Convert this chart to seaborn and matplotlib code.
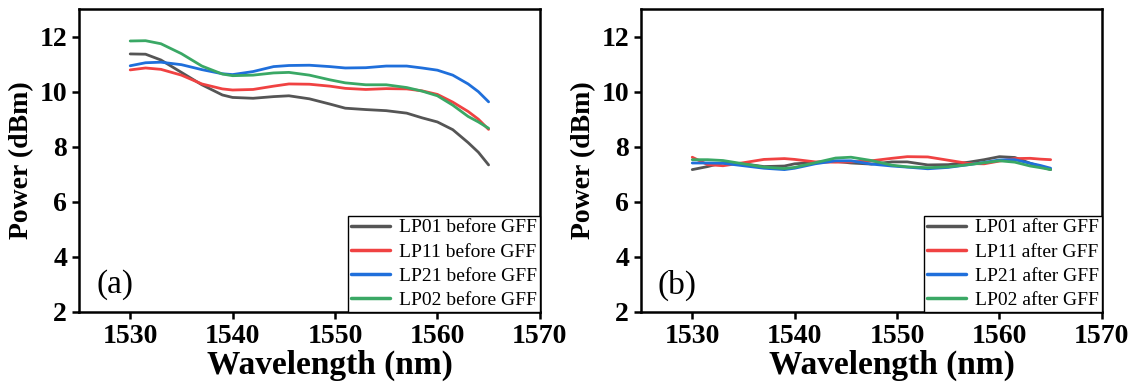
import matplotlib
matplotlib.use("Agg")
import matplotlib.pyplot as plt
import seaborn as sns
import pandas as pd

# wavelength grid (nm)
wl = [1530, 1531.5, 1533, 1535, 1537, 1539, 1540, 1542, 1544, 1545.5, 1547.5,
      1549.5, 1551, 1553, 1555, 1557, 1558.5, 1560, 1561.5, 1563, 1564, 1565]

# (a) before GFF, power in dBm
lp01_before = [11.37, 11.36, 11.15, 10.70, 10.25, 9.88, 9.79, 9.76, 9.82, 9.85, 9.74,
               9.55, 9.40, 9.35, 9.31, 9.22, 9.05, 8.90, 8.62, 8.15, 7.80, 7.34]
lp11_before = [10.79, 10.86, 10.81, 10.60, 10.28, 10.10, 10.06, 10.08, 10.20, 10.28, 10.27,
               10.20, 10.12, 10.08, 10.11, 10.10, 10.03, 9.90, 9.62, 9.28, 9.00, 8.63]
lp21_before = [10.94, 11.05, 11.07, 10.98, 10.80, 10.65, 10.62, 10.73, 10.91, 10.95, 10.96,
               10.91, 10.86, 10.87, 10.93, 10.93, 10.86, 10.78, 10.60, 10.28, 10.00, 9.63]
lp02_before = [11.84, 11.85, 11.74, 11.38, 10.93, 10.64, 10.58, 10.60, 10.68, 10.70, 10.60,
               10.43, 10.32, 10.25, 10.25, 10.15, 10.02, 9.85, 9.51, 9.10, 8.90, 8.67]

# (b) after GFF
lp01_after = [7.17, 7.28, 7.42, 7.38, 7.28, 7.30, 7.38, 7.43, 7.47, 7.41, 7.37,
              7.45, 7.45, 7.34, 7.35, 7.44, 7.53, 7.64, 7.61, 7.40, 7.28, 7.17]
lp11_after = [7.62, 7.35, 7.31, 7.42, 7.54, 7.57, 7.54, 7.45, 7.44, 7.45, 7.49,
              7.58, 7.64, 7.63, 7.51, 7.39, 7.38, 7.48, 7.57, 7.58, 7.55, 7.53]
lp21_after = [7.41, 7.41, 7.40, 7.31, 7.22, 7.17, 7.22, 7.38, 7.49, 7.49, 7.37,
              7.30, 7.26, 7.20, 7.25, 7.35, 7.43, 7.52, 7.53, 7.40, 7.32, 7.22]
lp02_after = [7.53, 7.53, 7.50, 7.38, 7.26, 7.21, 7.25, 7.42, 7.59, 7.62, 7.50,
              7.33, 7.27, 7.24, 7.27, 7.35, 7.42, 7.49, 7.44, 7.30, 7.24, 7.17]

modes = ["LP01", "LP11", "LP21", "LP02"]
colors = ["#555555", "#f04242", "#1f6fdb", "#3aa865"]

sns.set_style("ticks")
plt.rcParams['font.family'] = ['Liberation Serif', 'DejaVu Serif']
plt.rcParams['text.color'] = 'black'
plt.rcParams['axes.labelcolor'] = 'black'
plt.rcParams['xtick.color'] = 'black'
plt.rcParams['ytick.color'] = 'black'

fig = plt.figure(figsize=(11.35, 3.83), dpi=100)
ax_a = fig.add_axes([0.0696, 0.1854, 0.406, 0.791])
ax_b = fig.add_axes([0.5648, 0.1854, 0.406, 0.791])

panels = [
    (ax_a, [lp01_before, lp11_before, lp21_before, lp02_before], "before GFF", "(a)"),
    (ax_b, [lp01_after, lp11_after, lp21_after, lp02_after], "after GFF", "(b)"),
]

for ax, series, tag, letter in panels:
    rows = []
    for m, vals in zip(modes, series):
        for x, y in zip(wl, vals):
            rows.append({"wl": x, "power": y, "mode": m + " " + tag})
    df = pd.DataFrame(rows)
    sns.lineplot(data=df, x="wl", y="power", hue="mode", palette=colors,
                 linewidth=2.0, ax=ax, legend=True)

    ax.set_xlim(1525, 1570)
    ax.set_ylim(2, 13)
    ax.set_xticks([1530, 1540, 1550, 1560, 1570])
    ax.set_yticks([2, 4, 6, 8, 10, 12])
    ax.tick_params(axis="both", direction="out", length=5, width=1.8, labelsize=20,
                   colors="black")
    for lab in ax.get_xticklabels() + ax.get_yticklabels():
        lab.set_fontweight("bold")
    for sp in ax.spines.values():
        sp.set_visible(True)
        sp.set_linewidth(1.8)
        sp.set_color("black")
    ax.set_xlabel("Wavelength (nm)", fontsize=24, fontweight="bold", labelpad=1,
                  color="black")
    ax.xaxis.label.set_x(0.5455)
    ax.set_ylabel("Power (dBm)", fontsize=20, fontweight="bold", labelpad=4,
                  color="black")

    handles, labels = ax.get_legend_handles_labels()
    leg = ax.legend(handles, labels, loc="lower right", borderaxespad=0,
                    fancybox=False, edgecolor="black", framealpha=1,
                    prop={"family": "Liberation Serif", "size": 14},
                    handlelength=2.0, labelspacing=0.34, borderpad=0.15,
                    handletextpad=0.45)
    leg.get_frame().set_linewidth(1.0)
    for h in leg.get_lines():
        h.set_linewidth(2.5)
    for t in leg.get_texts():
        t.set_color("black")

    ax.text(0.078, 0.089, letter, transform=ax.transAxes, fontsize=24,
            ha="center", va="center", color="black")

fig.savefig("out.png", dpi=100)
